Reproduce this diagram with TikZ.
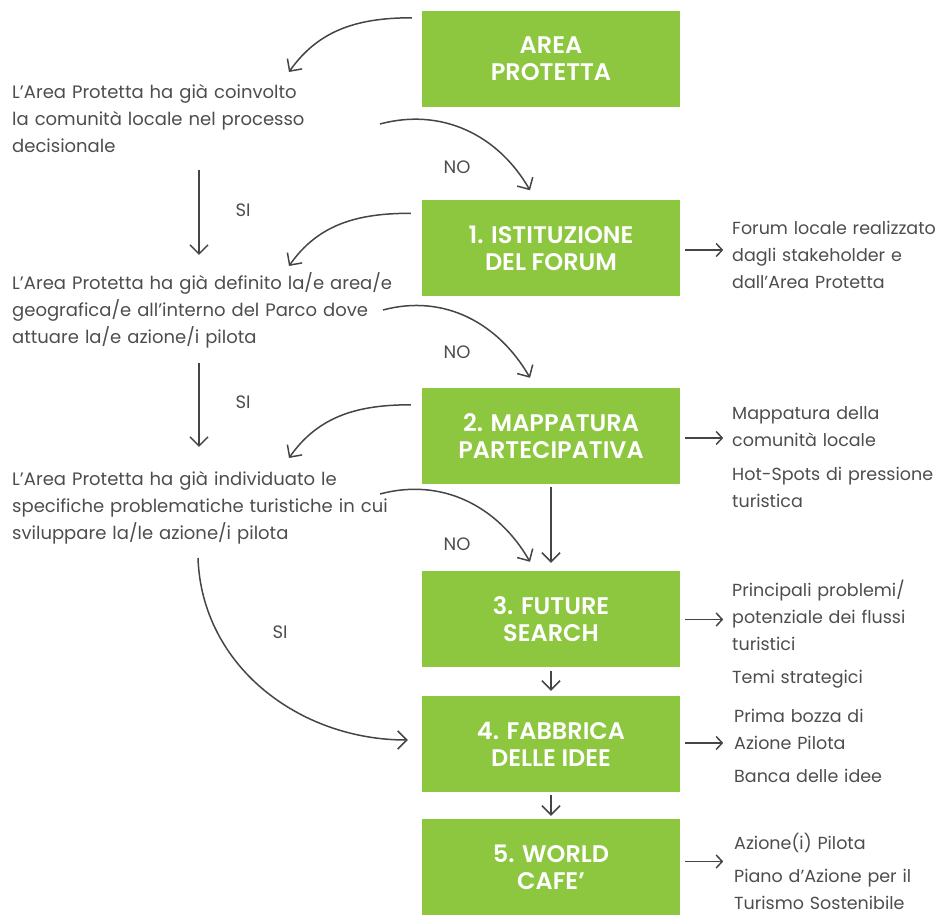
\documentclass[tikz,border=0pt]{standalone}
\usepackage{fontspec}
\setmainfont{Poppins}
\IfFontExistsTF{Poppins SemiBold}{\newfontfamily\boxfont{Poppins SemiBold}}{\newcommand\boxfont{\bfseries}}
\usetikzlibrary{arrows.meta}
\definecolor{boxgreen}{HTML}{8DC63F}
\definecolor{txtgray}{HTML}{4D4D4D}
\definecolor{arrgray}{HTML}{454545}
\begin{document}
\begin{tikzpicture}[x=1pt,y=1pt,
  stepbox/.style={fill=boxgreen, minimum width=258pt, minimum height=96pt, inner sep=0pt, text=white, font=\boxfont\fontsize{24}{27}\selectfont, align=center, execute at begin node={\rule{0pt}{25pt}}},
  question/.style={anchor=base west, inner sep=0pt, text width=430pt, align=left, text=txtgray, font=\fontsize{18}{26.8}\selectfont},
  result/.style={anchor=base west, inner sep=0pt, text width=260pt, align=left, text=txtgray, font=\fontsize{17.5}{27}\selectfont},
  lbl/.style={inner sep=0pt, text=txtgray, font=\fontsize{18}{20}\selectfont},
  arr/.style={draw=arrgray, line width=1.5pt, -{Straight Barb[length=9pt,width=18pt]}},
  sarr/.style={draw=arrgray, line width=1.5pt, -{Straight Barb[length=6pt,width=13pt]}},
]
\useasboundingbox (0,0) rectangle (943,915);

% boxes
\node[stepbox] (b0) at (551,856) {AREA\\PROTETTA};
\node[stepbox] (b1) at (551,666.5) {1. ISTITUZIONE\\DEL FORUM};
\node[stepbox] (b2) at (551,479) {2. MAPPATURA\\PARTECIPATIVA};
\node[stepbox] (b3) at (551,295.5) {3. FUTURE\\SEARCH};
\node[stepbox] (b4) at (551,171) {4. FABBRICA\\DELLE IDEE};
\node[stepbox] (b5) at (551,48) {5. WORLD\\CAFE’};

% questions
\node[question] (q1) at (12,816) {L’Area Protetta ha già coinvolto\\la comunità locale nel processo\\decisionale};
\node[question] (q2) at (12,625) {L’Area Protetta ha già definito la/e area/e\\geografica/e all’interno del Parco dove\\attuare la/e azione/i pilota};
\node[question] (q3) at (12,429) {L’Area Protetta ha già individuato le\\specifiche problematiche turistiche in cui\\sviluppare la/le azione/i pilota};

% results
\node[result] (r1) at (732,680) {Forum locale realizzato\\dagli stakeholder e\\dall’Area Protetta};
\node[result] (r2) at (732,495) {Mappatura della\\comunità locale\\[7pt]Hot-Spots di pressione\\turistica};
\node[result] (r3) at (732,318) {Principali problemi/\\potenziale dei flussi\\turistici\\[6pt]Temi strategici};
\node[result] (r4) at (734,192) {Prima bozza di\\Azione Pilota\\[6pt]Banca delle idee};
\node[result] (r5) at (734,65) {Azione(i) Pilota\\[6pt]Piano d’Azione per il\\Turismo Sostenibile};

% labels
\node[lbl] (no1) at (457,748) {NO};
\node[lbl] (no2) at (457,563) {NO};
\node[lbl] (no3) at (457,371) {NO};
\node[lbl] (si1) at (243,705) {SI};
\node[lbl] (si2) at (243,513) {SI};
\node[lbl] (si3) at (280,283) {SI};

% curved connectors
\draw[arr] ([xshift=-10pt,yshift=-7pt]b0.north west) to[out=180,in=55] ([xshift=277pt,yshift=27pt]q1.base west);
\draw[arr] ([xshift=368pt,yshift=-25pt]q1.base west) to[out=15,in=120] ([xshift=-21pt,yshift=10pt]b1.north);
\draw[arr] ([xshift=187pt,yshift=-71pt]q1.base west) -- ([xshift=187pt,yshift=35pt]q2.base west);

\draw[arr] ([xshift=-11pt,yshift=-13pt]b1.north west) to[out=180,in=55] ([xshift=277pt,yshift=24pt]q2.base west);
\draw[arr] ([xshift=371pt,yshift=-20pt]q2.base west) to[out=15,in=120] ([xshift=-21pt,yshift=10pt]b2.north);
\draw[arr] ([xshift=187pt,yshift=-73pt]q2.base west) -- ([xshift=187pt,yshift=39pt]q3.base west);

\draw[arr] ([xshift=-11pt,yshift=-17pt]b2.north west) to[out=180,in=55] ([xshift=277pt,yshift=28pt]q3.base west);
\draw[arr] ([xshift=368pt,yshift=-8pt]q3.base west) to[out=15,in=120] ([xshift=-21pt,yshift=9.5pt]b3.north);
\draw[arr] ([xshift=186pt,yshift=-72pt]q3.base west) to[out=-88,in=180] ([xshift=-14pt,yshift=4pt]b4.west);

% vertical box connectors
\draw[arr] ([yshift=-3pt]b2.south) -- ([yshift=8.5pt]b3.north);
\draw[arr] ([yshift=-3pt]b3.south) -- ([yshift=5pt]b4.north);
\draw[arr] ([yshift=-3pt]b4.south) -- ([yshift=3pt]b5.north);

% result arrows
\draw[sarr] ([xshift=5pt,yshift=-1.5pt]b1.east) -- ([xshift=43pt,yshift=-1.5pt]b1.east);
\draw[sarr] ([xshift=5pt,yshift=-2pt]b2.east) -- ([xshift=43pt,yshift=-2pt]b2.east);
\draw[sarr] ([xshift=5pt]b3.east) -- ([xshift=43pt]b3.east);
\draw[sarr] ([xshift=5pt,yshift=1pt]b4.east) -- ([xshift=43pt,yshift=1pt]b4.east);
\draw[sarr] ([xshift=5pt,yshift=5.5pt]b5.east) -- ([xshift=43pt,yshift=5.5pt]b5.east);
\end{tikzpicture}
\end{document}
